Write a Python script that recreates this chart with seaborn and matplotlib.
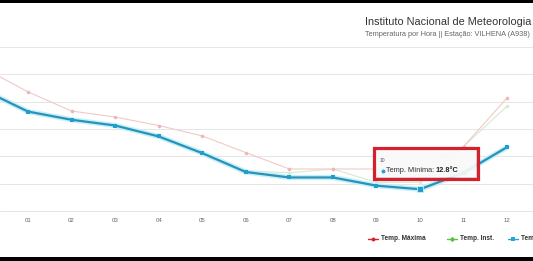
import numpy as np
import pandas as pd
import matplotlib
matplotlib.use("Agg")
import matplotlib.pyplot as plt
from matplotlib.lines import Line2D
from matplotlib.patches import Rectangle
from matplotlib.text import Annotation
import seaborn as sns

# ---- data ----
hours = list(range(13))
hour_labels = ["00", "01", "02", "03", "04", "05", "06", "07", "08", "09", "10", "11", "12"]
temp_max = [17.21, 16.36, 15.66, 15.44, 15.13, 14.75, 14.14, 13.54, 13.54, 13.54, 13.54, 14.36, 16.14]
temp_inst = [16.45, 15.68, 15.38, 15.17, 14.77, 14.16, 13.47, 13.40, 13.54, 13.05, 13.05, 14.36, 15.84]
temp_min = [16.41, 15.64, 15.34, 15.13, 14.73, 14.12, 13.43, 13.23, 13.23, 12.93, 12.8, 13.40, 14.34]
hover_idx = 10
series_names = ["Temp. Máxima", "Temp. Inst.", "Temp. Mínima"]
title = "Instituto Nacional de Meteorologia"
subtitle = "Temperatura por Hora || Estação: VILHENA (A938)"

sns.set_theme(style="white")
plt.rcParams["font.family"] = ["Liberation Sans", "DejaVu Sans"]

W, H = 533, 261
fig = plt.figure(figsize=(W / 100, H / 100), dpi=100)
fig.patch.set_facecolor("white")

ax = fig.add_axes([0, (H - 211.5) / H, 1, (211.5 - 46.5) / H])
ax.set_facecolor("white")

df_max = pd.DataFrame({"h": hours, "t": temp_max})
df_inst = pd.DataFrame({"h": hours, "t": temp_inst})
df_min = pd.DataFrame({"h": hours, "t": temp_min})

sns.lineplot(data=df_inst, x="h", y="t", ax=ax, color="#d6ebcb", lw=0.8,
             marker="D", markersize=2.2, markeredgewidth=0, zorder=2)
sns.lineplot(data=df_max, x="h", y="t", ax=ax, color="#f1c9c9", lw=0.8,
             marker="o", markersize=2.6, markeredgewidth=0, markerfacecolor="#ecb7b7", zorder=3)
# glow under the highlighted series
sns.lineplot(data=df_min, x="h", y="t", ax=ax, color="#c6f0f9", lw=3.8, zorder=3.5)
sns.lineplot(data=df_min, x="h", y="t", ax=ax, color="#2992b8", lw=1.6,
             marker="s", markersize=3.3, markeredgewidth=0, markerfacecolor="#1f9fcf", zorder=4)
sns.scatterplot(x=[hours[hover_idx]], y=[temp_min[hover_idx]], ax=ax, marker="s",
                s=24, color="#1f9fcf", edgecolor="#c6f0f9", linewidth=0.6, zorder=5)

# scales
px0 = -15.5
step = 43.55
ax.set_xlim((0 - px0) / step, (W - px0) / step)
ax.set_ylim(11.985, 18.02)
ax.set_xticks(hours[1:])
ax.set_xticklabels(hour_labels[1:], fontsize=4.4, color="#666666")
ax.set_yticks(range(12, 19))
ax.set_yticklabels([])
ax.tick_params(axis="x", length=0, pad=5.0)
ax.tick_params(axis="y", length=0)
ax.yaxis.grid(True, color="#e6e6e6", lw=0.75)
ax.xaxis.grid(False)
ax.set_xlabel("")
ax.set_ylabel("")
for s in ax.spines.values():
    s.set_visible(False)

# title & subtitle
fig.text(365 / W, 1 - 22 / H, title, fontsize=7.85, color="#333333", ha="left", va="center")
fig.text(365 / W, 1 - 34.5 / H, subtitle, fontsize=5.3, color="#666666", ha="left", va="center")

def py(y):
    return H - y

# tooltip
fig.add_artist(Rectangle((375, py(177)), 101, 28, transform=None, facecolor="#f9f9f9",
                         edgecolor="#cccccc", lw=0.5, alpha=0.92, zorder=10))
fig.add_artist(Rectangle((373.5, py(178.5)), 104, 31, transform=None, facecolor="none",
                         edgecolor="#d3212d", lw=2.3, zorder=11))
fig.text(380 / W, 1 - 160 / H, hour_labels[hover_idx], fontsize=3.6, color="#555555",
         ha="left", va="center", zorder=12)
fig.add_artist(Line2D([383], [py(171)], transform=None, marker="o", ms=1.8,
                      color="#22a3d3", lw=0, zorder=12))
t1 = fig.text(385.5 / W, 1 - 171 / H, series_names[2] + ": ", fontsize=5.3, color="#333333",
              ha="left", va="center", zorder=12)
fig.add_artist(Annotation(f"{temp_min[hover_idx]:.1f}°C", xy=(1, 0.5), xycoords=t1,
                          ha="left", va="center", fontsize=5.3, fontweight="bold",
                          color="#222222", annotation_clip=False, zorder=12))

# legend (manual)
leg_cols = ["#d9232e", "#5cc245", "#27a6d6"]
leg_markers = ["o", "D", "s"]
leg_x = [373, 452, 513]
for name, c, m, x in zip(series_names, leg_cols, leg_markers, leg_x):
    fig.add_artist(Line2D([x - 5, x + 5], [py(239), py(239)], transform=None, color=c, lw=1.0,
                          zorder=12))
    fig.add_artist(Line2D([x], [py(239)], transform=None, color=c, lw=0,
                          marker=m, ms=2.8, markeredgewidth=0, zorder=12))
    fig.text((x + 8) / W, 1 - 239 / H, name, fontsize=4.7, fontweight="bold", color="#333333",
             ha="left", va="center")

# black bands (screenshot frame)
fig.add_artist(Rectangle((0, H - 3), W, 3, transform=None, facecolor="black", lw=0, zorder=20))
fig.add_artist(Rectangle((0, 0), W, H - 256.5, transform=None, facecolor="black", lw=0, zorder=20))

fig.savefig("out.png", dpi=100)
